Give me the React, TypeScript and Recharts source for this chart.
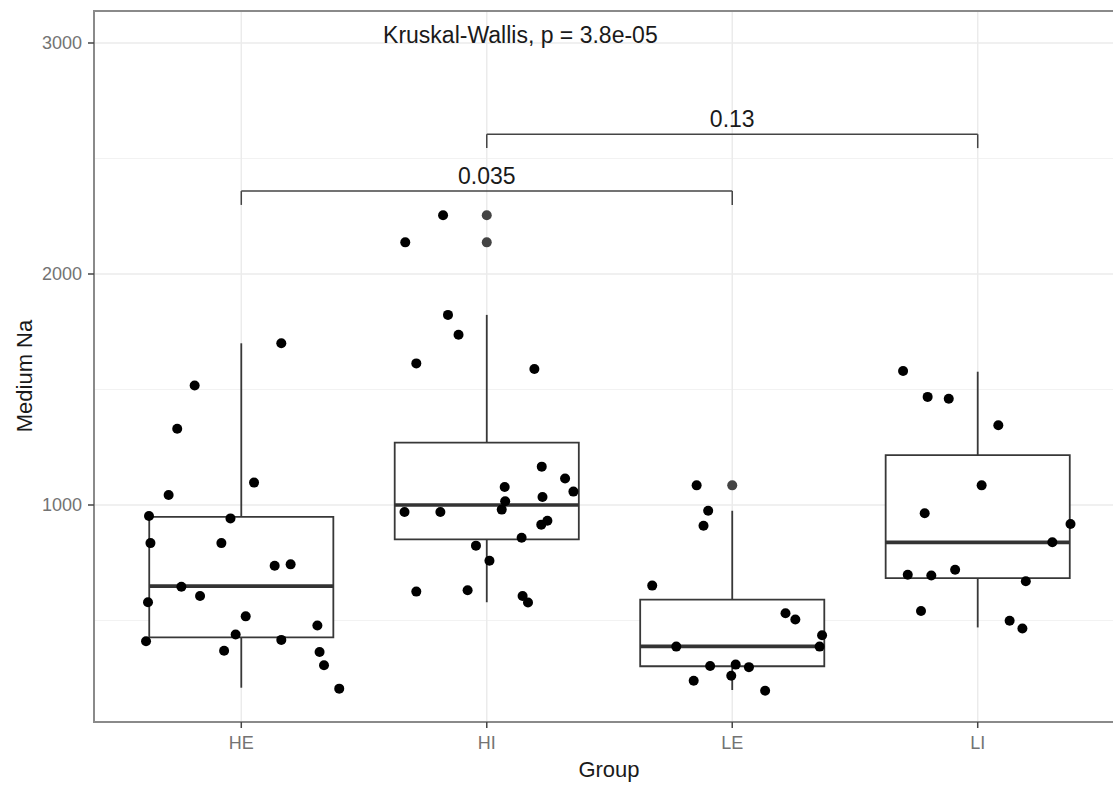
import React from 'react';
import {
  ComposedChart,
  Scatter,
  XAxis,
  YAxis,
  CartesianGrid,
  ReferenceArea,
  ReferenceLine,
  Label,
} from 'recharts';

const GROUPS = ['HE', 'HI', 'LE', 'LI'];

// boxplot stats: [lower whisker, q1, median, q3, upper whisker]
const HE_BOX = [209, 427, 649, 949, 1700];
const HI_BOX = [579, 851, 1000, 1270, 1823];
const LE_BOX = [199, 302, 388, 590, 975];
const LI_BOX = [470, 683, 838, 1216, 1577];
const BOXES = [HE_BOX, HI_BOX, LE_BOX, LI_BOX];

// boxplot outliers (drawn at the group centre)
const OUTLIERS = [[], [2254, 2137], [1085], []];

// raw values + jitter offsets
const HE_VALUES = [1700, 1517, 1330, 1097, 1043, 952, 942, 835, 835, 737, 743, 646, 606, 579, 518, 478, 439, 410, 416, 369, 364, 306, 205];
const HE_JITTER = [0.163, -0.19, -0.261, 0.052, -0.296, -0.376, -0.044, -0.37, -0.081, 0.136, 0.201, -0.244, -0.168, -0.38, 0.018, 0.31, -0.023, -0.388, 0.163, -0.07, 0.319, 0.337, 0.399];

const HI_VALUES = [2254, 2137, 1823, 1737, 1613, 1589, 1166, 1115, 1058, 1078, 1035, 1016, 980, 970, 970, 932, 915, 858, 824, 759, 625, 631, 606, 578];
const HI_JITTER = [-0.178, -0.332, -0.158, -0.115, -0.287, 0.194, 0.224, 0.319, 0.353, 0.073, 0.227, 0.075, 0.061, -0.335, -0.189, 0.247, 0.222, 0.142, -0.044, 0.011, -0.287, -0.078, 0.146, 0.168];

const LE_VALUES = [1085, 975, 910, 651, 531, 504, 436, 387, 387, 303, 309, 298, 261, 239, 196];
const LE_JITTER = [-0.145, -0.098, -0.117, -0.326, 0.217, 0.257, 0.366, 0.356, -0.228, -0.09, 0.014, 0.068, -0.004, -0.157, 0.134];

const LI_VALUES = [1580, 1468, 1460, 1345, 1085, 964, 918, 839, 698, 695, 720, 670, 541, 499, 465];
const LI_JITTER = [-0.304, -0.204, -0.118, 0.084, 0.016, -0.216, 0.378, 0.304, -0.285, -0.189, -0.092, 0.196, -0.231, 0.13, 0.182];

const VALUES = [HE_VALUES, HI_VALUES, LE_VALUES, LI_VALUES];
const JITTER = [HE_JITTER, HI_JITTER, LE_JITTER, LI_JITTER];

// pairwise comparisons: [from group, to group, bracket y, p label]
const COMPARISONS: [number, number, number, string][] = [
  [1, 3, 2359, '0.035'],
  [2, 4, 2605, '0.13'],
];
const BRACKET_DROP = 60;

const Y_DOMAIN = [60.6, 3138.5];
const X_DOMAIN = [0.4, 4.6];
const BOX_HALF = 0.375;
const FONT = '"Liberation Sans", Arial, sans-serif';
const LINE = '#383838';

const points = VALUES.flatMap((vals, i) =>
  vals.map((v, j) => ({ x: i + 1 + JITTER[i][j], y: v }))
);
const outlierPoints = OUTLIERS.flatMap((vals, i) => vals.map((v) => ({ x: i + 1, y: v })));

const annotations = [
  { x: 2.137, y: 3000, text: 'Kruskal-Wallis, p = 3.8e-05' },
  ...COMPARISONS.map(([a, b, y, label]) => ({ x: (a + b) / 2, y: y + 31, text: label })),
];

const Dot = (color: string) => (p: any) => (
  <circle cx={p.cx} cy={p.cy} r={5} fill={color} />
);

const TextMark = (p: any) => (
  <text
    x={p.cx}
    y={p.cy}
    textAnchor="middle"
    fontSize={23}
    fontFamily={FONT}
    fill="#1a1a1a"
  >
    {p.payload.text}
  </text>
);

export default function App() {
  return (
    <div style={{ position: 'absolute', left: 0, top: 0, width: 1113, height: 785, overflow: 'hidden', background: '#fff' }}>
      <ComposedChart width={1140} height={785} margin={{ top: 11, right: 15, bottom: 0, left: 0 }}>
        <CartesianGrid horizontalValues={[500, 1500, 2500]} vertical={false} stroke="#f2f2f2" strokeWidth={1} />
        <CartesianGrid horizontalValues={[1000, 2000, 3000]} verticalValues={[1, 2, 3, 4]} stroke="#ebebeb" strokeWidth={1.5} />
        <XAxis
          type="number"
          dataKey="x"
          domain={X_DOMAIN}
          ticks={[1, 2, 3, 4]}
          tickFormatter={(v) => GROUPS[v - 1]}
          allowDataOverflow
          axisLine={false}
          tickSize={6}
          tickMargin={8}
          tickLine={{ stroke: '#444', strokeWidth: 1.5 }}
          tick={{ fill: '#737373', fontSize: 18, fontFamily: FONT }}
          height={63}
        >
          <Label
            content={() => (
              <text x={609} y={777} textAnchor="middle" fontSize={22} fontFamily={FONT} fill="#1a1a1a">
                Group
              </text>
            )}
          />
        </XAxis>
        <YAxis
          type="number"
          dataKey="y"
          domain={Y_DOMAIN}
          ticks={[1000, 2000, 3000]}
          allowDataOverflow
          axisLine={false}
          tickSize={6}
          tickMargin={6}
          tickLine={{ stroke: '#444', strokeWidth: 1.5 }}
          tick={{ fill: '#737373', fontSize: 18, fontFamily: FONT }}
          width={94}
        >
          <Label
            content={() => (
              <text
                x={24}
                y={376}
                transform="rotate(-90, 24, 376)"
                textAnchor="middle"
                dominantBaseline="central"
                fontSize={22}
                fontFamily={FONT}
                fill="#1a1a1a"
              >
                Medium Na
              </text>
            )}
          />
        </YAxis>

        {/* panel border */}
        <ReferenceArea
          x1={X_DOMAIN[0]}
          x2={X_DOMAIN[1]}
          y1={Y_DOMAIN[0]}
          y2={Y_DOMAIN[1]}
          fill="none"
          stroke="#8a8a8a"
          strokeWidth={2}
        />

        {/* whiskers */}
        {BOXES.map((b, i) => (
          <ReferenceLine key={`wl-${i}`} segment={[{ x: i + 1, y: b[0] }, { x: i + 1, y: b[1] }]} stroke={LINE} strokeWidth={1.8} />
        ))}
        {BOXES.map((b, i) => (
          <ReferenceLine key={`wh-${i}`} segment={[{ x: i + 1, y: b[3] }, { x: i + 1, y: b[4] }]} stroke={LINE} strokeWidth={1.8} />
        ))}

        {/* boxes */}
        {BOXES.map((b, i) => (
          <ReferenceArea
            key={`box-${i}`}
            x1={i + 1 - BOX_HALF}
            x2={i + 1 + BOX_HALF}
            y1={b[1]}
            y2={b[3]}
            fill="#fff"
            fillOpacity={1}
            stroke={LINE}
            strokeWidth={1.8}
          />
        ))}
        {BOXES.map((b, i) => (
          <ReferenceLine
            key={`med-${i}`}
            segment={[{ x: i + 1 - BOX_HALF, y: b[2] }, { x: i + 1 + BOX_HALF, y: b[2] }]}
            stroke="#333"
            strokeWidth={3.6}
          />
        ))}

        {/* comparison brackets */}
        {COMPARISONS.map(([a, b, y], k) => (
          <ReferenceLine key={`bh-${k}`} segment={[{ x: a, y }, { x: b, y }]} stroke="#444" strokeWidth={1.5} />
        ))}
        {COMPARISONS.map(([a, , y], k) => (
          <ReferenceLine key={`bl-${k}`} segment={[{ x: a, y }, { x: a, y: y - BRACKET_DROP }]} stroke="#444" strokeWidth={1.5} />
        ))}
        {COMPARISONS.map(([, b, y], k) => (
          <ReferenceLine key={`br-${k}`} segment={[{ x: b, y }, { x: b, y: y - BRACKET_DROP }]} stroke="#444" strokeWidth={1.5} />
        ))}

        <Scatter data={outlierPoints} shape={Dot('#444')} isAnimationActive={false} />
        <Scatter data={points} shape={Dot('#000')} isAnimationActive={false} />
        <Scatter data={annotations} shape={TextMark} isAnimationActive={false} />
      </ComposedChart>
    </div>
  );
}
